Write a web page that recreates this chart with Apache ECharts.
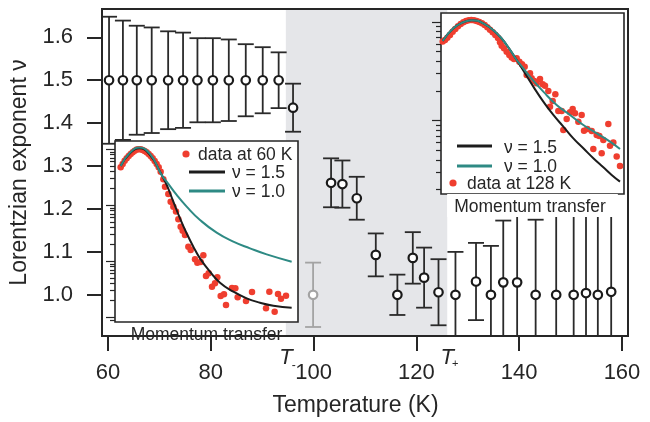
<!DOCTYPE html>
<html><head><meta charset="utf-8">
<script src="https://cdn.jsdelivr.net/npm/echarts@6/dist/echarts.min.js"></script>
<style>html,body{margin:0;padding:0;background:#fff}#c{width:650px;height:422px}</style>
</head><body><div id="c"></div>
<script>
// ---- main panel data ----
const temps = [60.2, 62.9, 65.6, 68.5, 71.7, 74.6, 77.4, 80.4, 83.5, 86.8, 90.1, 93.2, 96.0,
  103.4, 105.6, 108.4, 112.1, 116.3, 119.3, 121.5, 124.3, 127.6, 131.6, 134.5, 136.9, 139.6,
  143.2, 147.2, 150.6, 153.0, 155.3, 157.9];
const nu = [1.5, 1.5, 1.5, 1.5, 1.5, 1.5, 1.5, 1.5, 1.5, 1.5, 1.5, 1.5, 1.436,
  1.261, 1.258, 1.225, 1.093, 1.0, 1.086, 1.04, 1.006, 1.0, 1.031, 1.0, 1.029, 1.029,
  1.0, 1.0, 1.0, 1.004, 1.0, 1.007];
const nuErr = [0.148, 0.139, 0.127, 0.123, 0.114, 0.111, 0.098, 0.098, 0.095, 0.084, 0.077, 0.065, 0.056,
  0.057, 0.055, 0.05, 0.05, 0.047, 0.06, 0.07, 0.077, 0.1, 0.09, 0.114, 0.144, 0.2,
  0.175, 0.25, 0.25, 0.25, 0.25, 0.25];
const grayTemps = [99.9];
const grayNu = [1.0];
const grayErr = [0.075];
const tMinus = 94.6;
const tPlus = 126.0;
const xTicks = [60, 80, 100, 120, 140, 160];
const yTicks = [1.0, 1.1, 1.2, 1.3, 1.4, 1.5, 1.6];

// ---- inset at 60 K (momentum transfer, log10 intensity) ----
const dots60 = [[62,2.678],[68,2.737],[74,2.797],[80,2.839],[86,2.880],[92,2.916],[98,2.946],[104,2.976],[110,2.994],[116,3.0],[122,3.0],[128,2.988],[134,2.970],[140,2.946],[146,2.916],[152,2.880],[158,2.839],[164,2.791],[170,2.737],[176,2.678],[182,2.601],
  [190,2.463],[195,2.333],[205,2.202],[212,2.065],[220,1.976],[228,1.887],[235,1.749],[242,1.618],[248,1.547],[255,1.470],[265,1.261],[272,1.202],[285,1.035],[292,0.976],[302,0.988],[310,1.106],[318,0.737],[326,0.785],[336,0.547],[345,0.607],[352,0.714],[362,0.380],[372,0.410],[378,0.220],[396,0.523],[406,0.517],[413,0.357],[438,0.291],[456,0.452],[498,0.160],[508,0.458],[524,0.101],[534,0.416],[543,0.333],[558,0.386]];
const fit15_60 = [[62,2.702],[90,2.928],[118,3.017],[150,2.898],[180,2.601],[200,2.363],[220,2.065],[240,1.767],[260,1.499],[280,1.261],[300,1.053],[330,0.815],[360,0.618],[400,0.458],[440,0.339],[480,0.261],[520,0.208],[575,0.172]];
const fit10_60 = [[62,2.702],[90,2.94],[118,3.03],[150,2.916],[185,2.541],[200,2.422],[230,2.184],[260,1.976],[300,1.738],[350,1.511],[400,1.351],[450,1.231],[500,1.124],[575,0.993]];

// ---- inset at 128 K ----
const dots128 = [[38,1.801],[45,1.818],[52,1.841],[60,1.868],[68,1.902],[76,1.929],[84,1.956],[92,1.980],[100,1.997],[108,2.010],[116,2.017],[124,2.020],[132,2.017],[140,2.010],[148,2.0],[156,1.986],[164,1.970],[172,1.946],[180,1.922],[188,1.895],[196,1.868],[204,1.837],[210,1.794],[215,1.760],[222,1.733],[230,1.699],[238,1.666],[245,1.639],[252,1.625],[260,1.632],[268,1.598],[276,1.571],[284,1.547],[290,1.463],[300,1.480],[305,1.429],[313,1.402],[320,1.379],[330,1.423],[338,1.368],[345,1.355],[355,1.301],[360,1.142],[368,1.200],[376,1.267],[385,1.098],[395,1.098],[400,0.906],[410,1.017],[420,1.085],[428,1.119],[435,1.075],[445,0.990],[455,1.058],[462,0.899],[472,0.916],[485,0.896],[490,0.713],[500,0.855],[508,0.845],[515,0.669],[520,0.804],[535,0.966],[540,0.747],[550,0.778],[560,0.636],[570,0.541]];
const fit15_128 = [[38,1.808],[70,1.936],[100,1.997],[125,2.017],[160,1.986],[200,1.885],[230,1.767],[260,1.615],[285,1.480],[310,1.345],[340,1.193],[370,1.058],[400,0.940],[430,0.821],[460,0.720],[490,0.619],[520,0.527],[545,0.450],[570,0.382]];
const fit10_128 = [[38,1.808],[70,1.936],[100,1.997],[125,2.017],[160,1.986],[200,1.885],[230,1.767],[260,1.615],[280,1.531],[300,1.446],[340,1.294],[380,1.159],[420,1.058],[460,0.956],[500,0.872],[540,0.788],[570,0.713]];

const FONT = "'Liberation Sans', Arial, Helvetica, sans-serif";
const INK = '#262626';
const RED = '#ef3e2f', TEAL = '#2e8a84', BLACK = '#1c1c1c', GRAY = '#a3a3a3';

function logTicks(lo, hi, major) {
  const out = [];
  for (let n = Math.floor(lo) - 1; n <= Math.ceil(hi); n++) {
    for (let k = 1; k <= 9; k++) {
      const v = n + Math.log10(k);
      if (v >= lo - 1e-9 && v <= hi + 1e-9 && ((k === 1) === major)) out.push(v);
    }
  }
  return out;
}
function errBar(color) {
  return function (params, api) {
    const x = api.value(0), y = api.value(1), e = api.value(2);
    const p1 = api.coord([x, y + e]), p2 = api.coord([x, y - e]);
    const w = 8, st = { stroke: color, lineWidth: 1.8 };
    return { type: 'group', children: [
      { type: 'line', shape: { x1: p1[0], y1: p1[1], x2: p2[0], y2: p2[1] }, style: st },
      { type: 'line', shape: { x1: p1[0] - w, y1: p1[1], x2: p1[0] + w, y2: p1[1] }, style: st },
      { type: 'line', shape: { x1: p2[0] - w, y1: p2[1], x2: p2[0] + w, y2: p2[1] }, style: st }
    ] };
  };
}
function insetY(grid, lo, hi, major) {
  return {
    type: 'value', gridIndex: grid, min: lo, max: hi, position: 'left', z: 6,
    axisLine: { show: false }, splitLine: { show: false }, axisLabel: { show: false },
    axisTick: { show: true, customValues: logTicks(lo, hi, major), length: major ? 9 : 5,
      lineStyle: { color: INK, width: 1.2 } }
  };
}

const chart = echarts.init(document.getElementById('c'));
const option = {
  animation: false,
  textStyle: { fontFamily: FONT },
  grid: [
    { left: 102, top: 9, width: 526, height: 334, show: true, backgroundColor: 'transparent',
      borderColor: INK, borderWidth: 2, z: 4 },
    { left: 115, top: 141, width: 183, height: 181, show: true, backgroundColor: '#fff',
      borderColor: INK, borderWidth: 1.6, z: 5 },
    { left: 441, top: 13, width: 183, height: 181, show: true, backgroundColor: '#fff',
      borderColor: INK, borderWidth: 1.6, z: 5 }
  ],
  xAxis: [
    { type: 'value', gridIndex: 0, min: 58.83, max: 161.17,
      axisLine: { show: false }, splitLine: { show: false },
      axisTick: { show: true, customValues: xTicks, length: 15, lineStyle: { color: INK, width: 2 } },
      axisLabel: { customValues: xTicks, margin: 26, fontSize: 22, color: INK, fontFamily: FONT },
      name: 'Temperature (K)', nameLocation: 'middle', nameGap: 58,
      nameTextStyle: { fontSize: 23, color: INK, fontFamily: FONT, padding: [0, 19, 0, 0] } },
    { type: 'value', gridIndex: 1, min: 45, max: 594, z: 6,
      axisLine: { show: false }, axisTick: { show: false }, axisLabel: { show: false }, splitLine: { show: false },
      name: 'Momentum transfer', nameLocation: 'middle', nameGap: 5,
      nameTextStyle: { fontSize: 17.5, lineHeight: 17, color: INK, fontFamily: FONT, padding: [0, 0, 0, 0] } },
    { type: 'value', gridIndex: 2, min: 33, max: 582, z: 6,
      axisLine: { show: false }, axisTick: { show: false }, axisLabel: { show: false }, splitLine: { show: false },
      name: 'Momentum transfer', nameLocation: 'middle', nameGap: 0,
      nameTextStyle: { fontSize: 17.5, lineHeight: 17, color: INK, fontFamily: FONT,
        backgroundColor: '#fff', padding: [5, 12, 1, 7] } }
  ],
  yAxis: [
    { type: 'value', gridIndex: 0, min: 0.904, max: 1.666,
      axisLine: { show: false }, splitLine: { show: false },
      axisTick: { show: true, customValues: yTicks, length: 15, lineStyle: { color: INK, width: 2 } },
      axisLabel: { customValues: yTicks, margin: 29, fontSize: 22, color: INK, fontFamily: FONT,
        formatter: v => Number(v).toFixed(1) },
      name: 'Lorentzian exponent ν', nameLocation: 'middle', nameGap: 64,
      nameTextStyle: { fontSize: 23, color: INK, fontFamily: FONT } },
    insetY(1, -0.084, 3.148, true),
    insetY(1, -0.084, 3.148, false),
    insetY(2, 0.257, 2.091, true),
    insetY(2, 0.257, 2.091, false)
  ],
  series: [
    { type: 'line', data: [], z: 1, silent: true,
      markArea: { silent: true, itemStyle: { color: '#e5e6e9' },
        data: [[{ xAxis: tMinus }, { xAxis: tPlus }]] } },
    { type: 'custom', z: 2, clip: true, silent: true,
      data: temps.map((t, i) => [t, nu[i], nuErr[i]]), encode: { x: 0, y: 1 },
      renderItem: errBar('#2a2a2a') },
    { type: 'custom', z: 2, clip: true, silent: true,
      data: grayTemps.map((t, i) => [t, grayNu[i], grayErr[i]]), encode: { x: 0, y: 1 },
      renderItem: errBar(GRAY) },
    { type: 'scatter', z: 3, symbol: 'circle', symbolSize: 8.5,
      data: temps.map((t, i) => [t, nu[i]]),
      itemStyle: { color: '#fff', borderColor: '#1a1a1a', borderWidth: 2.2, opacity: 1 } },
    { type: 'scatter', z: 3, symbol: 'circle', symbolSize: 8.5,
      data: grayTemps.map((t, i) => [t, grayNu[i]]),
      itemStyle: { color: '#fff', borderColor: GRAY, borderWidth: 2.2, opacity: 1 } },
    { type: 'scatter', xAxisIndex: 1, yAxisIndex: 1, z: 7, symbolSize: 6.5,
      data: dots60, itemStyle: { color: RED, opacity: 1 } },
    { type: 'line', xAxisIndex: 1, yAxisIndex: 1, z: 8, smooth: true, symbol: 'none',
      data: fit15_60, lineStyle: { color: BLACK, width: 2 } },
    { type: 'line', xAxisIndex: 1, yAxisIndex: 1, z: 8, smooth: true, symbol: 'none',
      data: fit10_60, lineStyle: { color: TEAL, width: 2 } },
    { type: 'scatter', xAxisIndex: 2, yAxisIndex: 3, z: 7, symbolSize: 6.5,
      data: dots128, itemStyle: { color: RED, opacity: 1 } },
    { type: 'line', xAxisIndex: 2, yAxisIndex: 3, z: 8, smooth: true, symbol: 'none',
      data: fit15_128, lineStyle: { color: BLACK, width: 2 } },
    { type: 'line', xAxisIndex: 2, yAxisIndex: 3, z: 8, smooth: true, symbol: 'none',
      data: fit10_128, lineStyle: { color: TEAL, width: 2 } }
  ]
};
chart.setOption(option);

const pxM = chart.convertToPixel({ xAxisIndex: 0 }, tMinus);
const pxP = chart.convertToPixel({ xAxisIndex: 0 }, tPlus);
const legTxt = { fontSize: 17.5, fill: INK, fontFamily: FONT, verticalAlign: 'middle', align: 'left' };
const Z = 30;
chart.setOption({
  graphic: { z: Z, elements: [
    { type: 'text', z: Z, x: pxM, y: 358, style: { text: 'T', fontSize: 22, fontStyle: 'italic', fill: INK, fontFamily: FONT, align: 'center', verticalAlign: 'middle' } },
    { type: 'text', z: Z, x: pxM + 8, y: 366, style: { text: '-', fontSize: 12, fill: INK, fontFamily: FONT, align: 'center', verticalAlign: 'middle' } },
    { type: 'text', z: Z, x: pxP, y: 358, style: { text: 'T', fontSize: 22, fontStyle: 'italic', fill: INK, fontFamily: FONT, align: 'center', verticalAlign: 'middle' } },
    { type: 'text', z: Z, x: pxP + 8, y: 364, style: { text: '+', fontSize: 11, fill: INK, fontFamily: FONT, align: 'center', verticalAlign: 'middle' } },
    // legend, 60 K inset
    { type: 'circle', z: Z, shape: { cx: 186, cy: 154, r: 3.6 }, style: { fill: RED } },
    { type: 'text', z: Z, x: 198, y: 155, style: Object.assign({ text: 'data at 60 K' }, legTxt) },
    { type: 'line', z: Z, shape: { x1: 189, y1: 172, x2: 225, y2: 172 }, style: { stroke: BLACK, lineWidth: 3 } },
    { type: 'text', z: Z, x: 232, y: 173, style: Object.assign({ text: 'ν = 1.5' }, legTxt) },
    { type: 'line', z: Z, shape: { x1: 189, y1: 191, x2: 225, y2: 191 }, style: { stroke: TEAL, lineWidth: 3 } },
    { type: 'text', z: Z, x: 232, y: 192, style: Object.assign({ text: 'ν = 1.0' }, legTxt) },
    // legend, 128 K inset
    { type: 'line', z: Z, shape: { x1: 457, y1: 146, x2: 492, y2: 146 }, style: { stroke: BLACK, lineWidth: 3 } },
    { type: 'text', z: Z, x: 504, y: 148, style: Object.assign({ text: 'ν = 1.5' }, legTxt) },
    { type: 'line', z: Z, shape: { x1: 457, y1: 166, x2: 492, y2: 166 }, style: { stroke: TEAL, lineWidth: 3 } },
    { type: 'text', z: Z, x: 504, y: 167, style: Object.assign({ text: 'ν = 1.0' }, legTxt) },
    { type: 'circle', z: Z, shape: { cx: 453, cy: 183, r: 3.6 }, style: { fill: RED } },
    { type: 'text', z: Z, x: 467, y: 184, style: Object.assign({ text: 'data at 128 K' }, legTxt) }
  ] }
});
</script>
</body></html>
